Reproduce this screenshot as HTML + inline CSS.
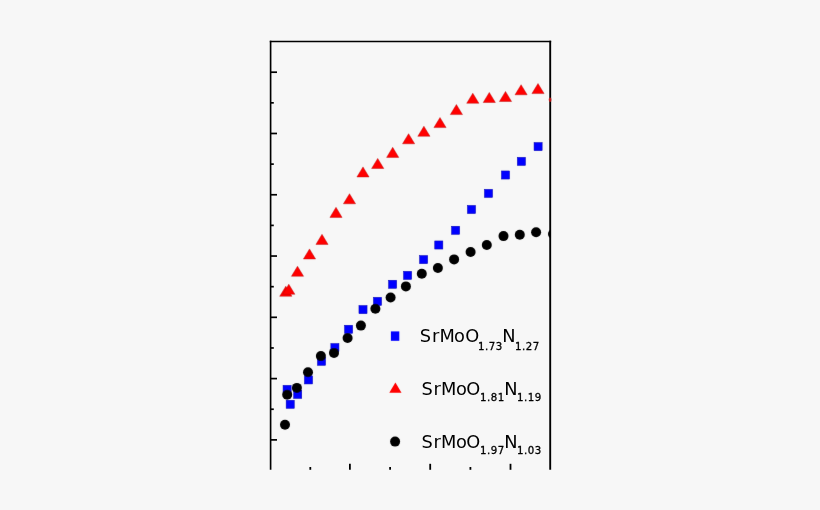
<!DOCTYPE html>
<html><head><meta charset="utf-8"><title>SrMoON plot</title>
<style>
html,body{margin:0;padding:0;background:#f7f7f7;}
body{width:820px;height:510px;overflow:hidden;}
svg{display:block;}
.t,.s{font-family:"DejaVu Sans","Liberation Sans",sans-serif;fill:#000;}
.t{font-size:17.8px;}
.s{font-size:10.2px;letter-spacing:0.55px;stroke:#000;stroke-width:0.3px;}
</style></head><body>
<svg width="820" height="510" viewBox="0 0 820 510">
<defs><filter id="bl" x="0" y="0" width="820" height="510" filterUnits="userSpaceOnUse"><feConvolveMatrix order="3" kernelMatrix="0.0028 0.0470 0.0028 0.0470 0.8008 0.0470 0.0028 0.0470 0.0028" edgeMode="none" preserveAlpha="false"/></filter><clipPath id="pc"><rect x="270.6" y="41.6" width="279.60" height="428.20"/></clipPath></defs>
<rect width="820" height="510" fill="#f7f7f7"/>
<g filter="url(#bl)">
<g clip-path="url(#pc)">
<rect x="283.05" y="385.35" width="8.10" height="8.10" fill="#0000ff" stroke="#0000b0" stroke-width="0.5"/>
<rect x="286.15" y="400.25" width="8.10" height="8.10" fill="#0000ff" stroke="#0000b0" stroke-width="0.5"/>
<rect x="293.65" y="390.35" width="8.10" height="8.10" fill="#0000ff" stroke="#0000b0" stroke-width="0.5"/>
<rect x="304.45" y="375.85" width="8.10" height="8.10" fill="#0000ff" stroke="#0000b0" stroke-width="0.5"/>
<rect x="317.45" y="357.25" width="8.10" height="8.10" fill="#0000ff" stroke="#0000b0" stroke-width="0.5"/>
<rect x="330.85" y="343.55" width="8.10" height="8.10" fill="#0000ff" stroke="#0000b0" stroke-width="0.5"/>
<rect x="344.55" y="325.25" width="8.10" height="8.10" fill="#0000ff" stroke="#0000b0" stroke-width="0.5"/>
<rect x="358.95" y="305.55" width="8.10" height="8.10" fill="#0000ff" stroke="#0000b0" stroke-width="0.5"/>
<rect x="373.45" y="297.35" width="8.10" height="8.10" fill="#0000ff" stroke="#0000b0" stroke-width="0.5"/>
<rect x="388.55" y="280.25" width="8.10" height="8.10" fill="#0000ff" stroke="#0000b0" stroke-width="0.5"/>
<rect x="403.55" y="271.35" width="8.10" height="8.10" fill="#0000ff" stroke="#0000b0" stroke-width="0.5"/>
<rect x="419.55" y="255.55" width="8.10" height="8.10" fill="#0000ff" stroke="#0000b0" stroke-width="0.5"/>
<rect x="434.75" y="240.95" width="8.10" height="8.10" fill="#0000ff" stroke="#0000b0" stroke-width="0.5"/>
<rect x="451.55" y="226.25" width="8.10" height="8.10" fill="#0000ff" stroke="#0000b0" stroke-width="0.5"/>
<rect x="467.45" y="205.45" width="8.10" height="8.10" fill="#0000ff" stroke="#0000b0" stroke-width="0.5"/>
<rect x="484.45" y="189.35" width="8.10" height="8.10" fill="#0000ff" stroke="#0000b0" stroke-width="0.5"/>
<rect x="501.45" y="170.95" width="8.10" height="8.10" fill="#0000ff" stroke="#0000b0" stroke-width="0.5"/>
<rect x="517.35" y="157.35" width="8.10" height="8.10" fill="#0000ff" stroke="#0000b0" stroke-width="0.5"/>
<rect x="534.05" y="142.55" width="8.10" height="8.10" fill="#0000ff" stroke="#0000b0" stroke-width="0.5"/>
<path d="M279.70 296.30L285.80 286.20L291.90 296.30Z" fill="#ff0000" stroke="#b00000" stroke-width="0.4" stroke-linejoin="round"/>
<path d="M282.70 294.30L288.80 284.20L294.90 294.30Z" fill="#ff0000" stroke="#b00000" stroke-width="0.4" stroke-linejoin="round"/>
<path d="M291.40 276.30L297.50 266.20L303.60 276.30Z" fill="#ff0000" stroke="#b00000" stroke-width="0.4" stroke-linejoin="round"/>
<path d="M303.40 259.00L309.50 248.90L315.60 259.00Z" fill="#ff0000" stroke="#b00000" stroke-width="0.4" stroke-linejoin="round"/>
<path d="M315.90 244.40L322.00 234.30L328.10 244.40Z" fill="#ff0000" stroke="#b00000" stroke-width="0.4" stroke-linejoin="round"/>
<path d="M329.90 217.40L336.00 207.30L342.10 217.40Z" fill="#ff0000" stroke="#b00000" stroke-width="0.4" stroke-linejoin="round"/>
<path d="M343.40 203.80L349.50 193.70L355.60 203.80Z" fill="#ff0000" stroke="#b00000" stroke-width="0.4" stroke-linejoin="round"/>
<path d="M356.90 177.00L363.00 166.90L369.10 177.00Z" fill="#ff0000" stroke="#b00000" stroke-width="0.4" stroke-linejoin="round"/>
<path d="M371.60 168.50L377.70 158.40L383.80 168.50Z" fill="#ff0000" stroke="#b00000" stroke-width="0.4" stroke-linejoin="round"/>
<path d="M386.60 157.40L392.70 147.30L398.80 157.40Z" fill="#ff0000" stroke="#b00000" stroke-width="0.4" stroke-linejoin="round"/>
<path d="M402.50 143.80L408.60 133.70L414.70 143.80Z" fill="#ff0000" stroke="#b00000" stroke-width="0.4" stroke-linejoin="round"/>
<path d="M417.80 136.30L423.90 126.20L430.00 136.30Z" fill="#ff0000" stroke="#b00000" stroke-width="0.4" stroke-linejoin="round"/>
<path d="M433.90 127.60L440.00 117.50L446.10 127.60Z" fill="#ff0000" stroke="#b00000" stroke-width="0.4" stroke-linejoin="round"/>
<path d="M450.30 114.60L456.40 104.50L462.50 114.60Z" fill="#ff0000" stroke="#b00000" stroke-width="0.4" stroke-linejoin="round"/>
<path d="M466.70 103.30L472.80 93.20L478.90 103.30Z" fill="#ff0000" stroke="#b00000" stroke-width="0.4" stroke-linejoin="round"/>
<path d="M483.20 102.50L489.30 92.40L495.40 102.50Z" fill="#ff0000" stroke="#b00000" stroke-width="0.4" stroke-linejoin="round"/>
<path d="M499.40 101.50L505.50 91.40L511.60 101.50Z" fill="#ff0000" stroke="#b00000" stroke-width="0.4" stroke-linejoin="round"/>
<path d="M515.00 94.80L521.10 84.70L527.20 94.80Z" fill="#ff0000" stroke="#b00000" stroke-width="0.4" stroke-linejoin="round"/>
<path d="M531.90 93.60L538.00 83.50L544.10 93.60Z" fill="#ff0000" stroke="#b00000" stroke-width="0.4" stroke-linejoin="round"/>
<circle cx="285" cy="424.7" r="5.0" fill="#000"/>
<circle cx="287.2" cy="394.7" r="5.0" fill="#000"/>
<circle cx="296.9" cy="387.9" r="5.0" fill="#000"/>
<circle cx="308" cy="372.2" r="5.0" fill="#000"/>
<circle cx="320.9" cy="356.1" r="5.0" fill="#000"/>
<circle cx="334" cy="352.9" r="5.0" fill="#000"/>
<circle cx="347.6" cy="338" r="5.0" fill="#000"/>
<circle cx="360.9" cy="325.6" r="5.0" fill="#000"/>
<circle cx="375.4" cy="308.8" r="5.0" fill="#000"/>
<circle cx="390.6" cy="297.5" r="5.0" fill="#000"/>
<circle cx="405.9" cy="286.4" r="5.0" fill="#000"/>
<circle cx="421.8" cy="273.8" r="5.0" fill="#000"/>
<circle cx="437.9" cy="268" r="5.0" fill="#000"/>
<circle cx="454.1" cy="259.4" r="5.0" fill="#000"/>
<circle cx="470.6" cy="252" r="5.0" fill="#000"/>
<circle cx="486.8" cy="245" r="5.0" fill="#000"/>
<circle cx="503.5" cy="236.1" r="5.0" fill="#000"/>
<circle cx="519.8" cy="234.8" r="5.0" fill="#000"/>
<circle cx="536.1" cy="232.3" r="5.0" fill="#000"/>
<circle cx="553" cy="234" r="5.0" fill="#000"/>
</g>
<rect x="390.90" y="331.40" width="8.4" height="9.4" fill="#0000ff"/>
<path d="M389.30 392.70L395.40 382.60L401.50 392.70Z" fill="#ff0000"/>
<circle cx="395.1" cy="441.6" r="5.0" fill="#000"/>
</g>
<line x1="270.6" y1="469.8" x2="270.6" y2="40.85" stroke="#000" stroke-width="1.65"/>
<line x1="269.8" y1="41.6" x2="551.1500000000001" y2="41.6" stroke="#000" stroke-width="1.5"/>
<line x1="550.2" y1="40.85" x2="550.2" y2="469.8" stroke="#000" stroke-width="1.9"/>
<line x1="270.6" y1="72.20" x2="277" y2="72.20" stroke="#000" stroke-width="1.7"/>
<line x1="270.6" y1="102.84" x2="273.8" y2="102.84" stroke="#000" stroke-width="1.7"/>
<line x1="270.6" y1="133.48" x2="277" y2="133.48" stroke="#000" stroke-width="1.7"/>
<line x1="270.6" y1="164.12" x2="273.8" y2="164.12" stroke="#000" stroke-width="1.7"/>
<line x1="270.6" y1="194.76" x2="277" y2="194.76" stroke="#000" stroke-width="1.7"/>
<line x1="270.6" y1="225.40" x2="273.8" y2="225.40" stroke="#000" stroke-width="1.7"/>
<line x1="270.6" y1="256.04" x2="277" y2="256.04" stroke="#000" stroke-width="1.7"/>
<line x1="270.6" y1="286.68" x2="273.8" y2="286.68" stroke="#000" stroke-width="1.7"/>
<line x1="270.6" y1="317.32" x2="277" y2="317.32" stroke="#000" stroke-width="1.7"/>
<line x1="270.6" y1="347.96" x2="273.8" y2="347.96" stroke="#000" stroke-width="1.7"/>
<line x1="270.6" y1="378.60" x2="277" y2="378.60" stroke="#000" stroke-width="1.7"/>
<line x1="270.6" y1="409.24" x2="273.8" y2="409.24" stroke="#000" stroke-width="1.7"/>
<line x1="270.6" y1="439.88" x2="277" y2="439.88" stroke="#000" stroke-width="1.7"/>
<line x1="349.9" y1="469.8" x2="349.9" y2="463.8" stroke="#000" stroke-width="1.8"/>
<line x1="430.2" y1="469.8" x2="430.2" y2="463.8" stroke="#000" stroke-width="1.8"/>
<line x1="510.5" y1="469.8" x2="510.5" y2="463.8" stroke="#000" stroke-width="1.8"/>
<line x1="310.3" y1="469.8" x2="310.3" y2="467" stroke="#000" stroke-width="1.8"/>
<line x1="390.1" y1="469.8" x2="390.1" y2="467" stroke="#000" stroke-width="1.8"/>
<line x1="470.4" y1="469.8" x2="470.4" y2="467" stroke="#000" stroke-width="1.8"/>
<ellipse cx="550.1" cy="99.8" rx="1.4" ry="2.2" fill="#d01a1a" opacity="0.85"/>
<text class="t" y="341.9"><tspan x="419.73 431.98 439.55 454.12 465.30">SrMoO</tspan><tspan class="s" x="477.98" y="350">1.73</tspan><tspan x="502.26" y="341.9">N</tspan><tspan class="s" x="514.88" y="350">1.27</tspan></text>
<text class="t" y="394.7"><tspan x="421.43 433.38 440.95 456.02 466.20">SrMoO</tspan><tspan class="s" x="479.88" y="401.3">1.81</tspan><tspan x="504.16" y="394.7">N</tspan><tspan class="s" x="516.98" y="401.3">1.19</tspan></text>
<text class="t" y="447.6"><tspan x="421.43 433.38 440.95 456.02 466.20">SrMoO</tspan><tspan class="s" x="479.88" y="454.3">1.97</tspan><tspan x="504.16" y="447.6">N</tspan><tspan class="s" x="516.98" y="454.3">1.03</tspan></text>
</svg>
</body></html>
